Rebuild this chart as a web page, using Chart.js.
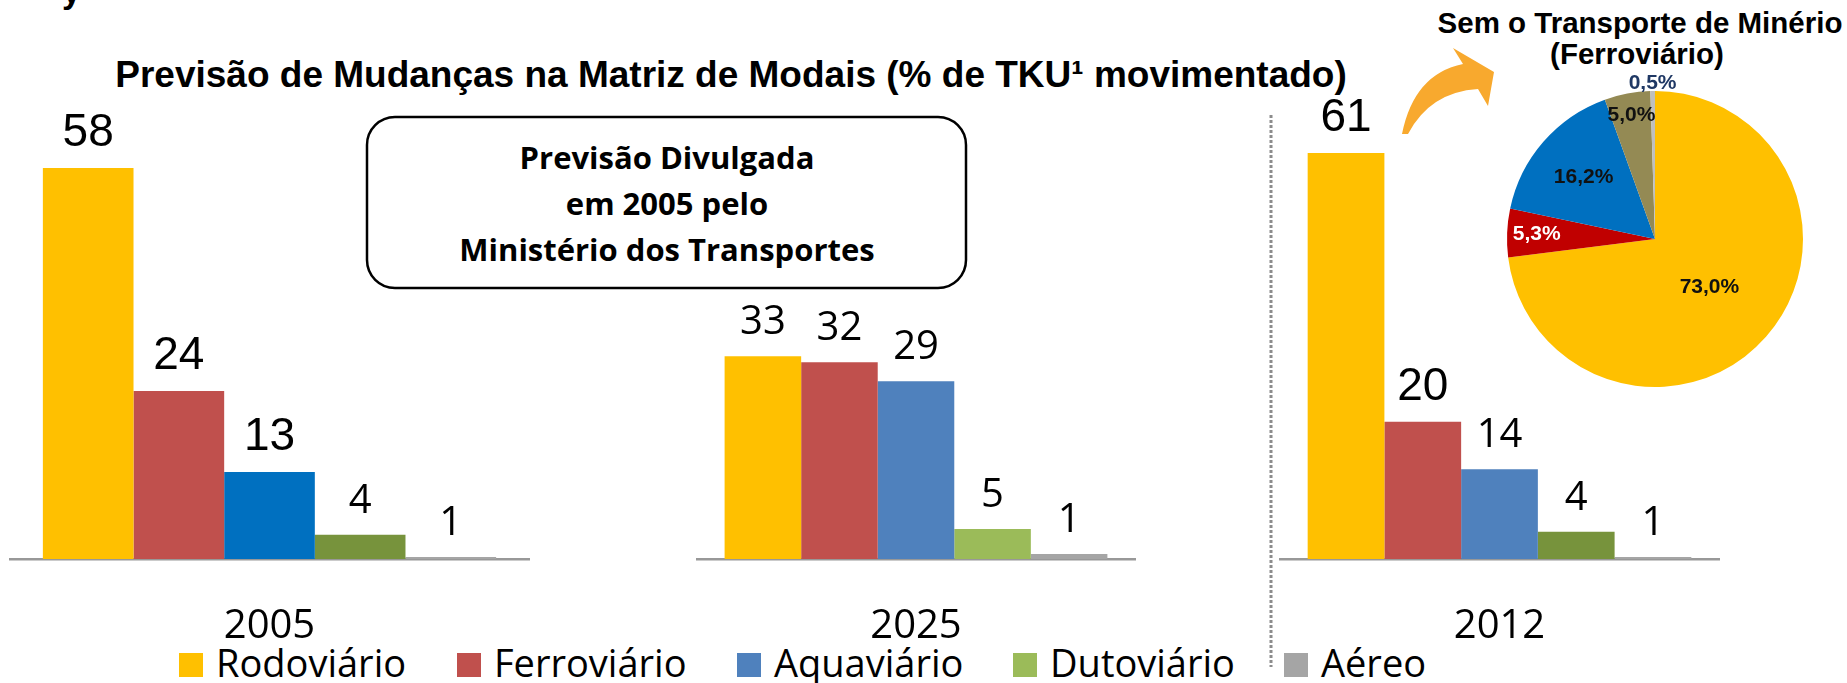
<!DOCTYPE html>
<html><head><meta charset="utf-8">
<script src="https://cdn.jsdelivr.net/npm/chart.js@4.4.1/dist/chart.umd.min.js"></script>
<style>
html,body{margin:0;padding:0;background:#fff;width:1847px;height:683px;overflow:hidden;}
#stage{position:relative;width:1847px;height:683px;}
#stage svg{position:absolute;left:0;top:0;}
.cw{position:absolute;}
.cw canvas{display:block;}
</style></head><body><div id="stage">
<svg width="1847" height="683" xmlns="http://www.w3.org/2000/svg">
  <text x="62" y="3" font-family="Liberation Sans, Arial, sans-serif" font-weight="bold" font-size="34" fill="#000">y</text>
  <text x="731" y="87" font-family="Liberation Sans, Arial, sans-serif" font-weight="bold" font-size="37" text-anchor="middle" fill="#000">Previsão de Mudanças na Matriz de Modais (% de TKU¹ movimentado)</text>
  <rect x="367" y="117" width="599" height="171" rx="28" ry="28" fill="none" stroke="#000" stroke-width="2.5"/>
  <g font-family="Open Sans, sans-serif" font-weight="bold" font-size="31" text-anchor="middle" fill="#000">
    <text x="667" y="169">Previsão Divulgada</text>
    <text x="667" y="215">em 2005 pelo</text>
    <text x="667" y="261">Ministério dos Transportes</text>
  </g>
  <line x1="1271" y1="115" x2="1271" y2="667" stroke="#8C8C8C" stroke-width="3" stroke-dasharray="3 2"/>
  <path d="M 1402 134 Q 1414 74 1463 64 L 1453 48 L 1494 72 L 1488 106 L 1478 89 Q 1430 92 1408 134 Z" fill="#F8A92E"/>
  <g font-family="Liberation Sans, Arial, sans-serif" font-weight="bold" font-size="29.5" text-anchor="middle" fill="#000">
    <text x="1640" y="33">Sem o Transporte de Minério</text>
    <text x="1637" y="64">(Ferroviário)</text>
  </g>
  <g id="legend" font-family="Open Sans, sans-serif" font-size="38" fill="#000"></g>
</svg>
<div class="cw" id="w1"><canvas id="c1"></canvas></div>
<div class="cw" id="w2"><canvas id="c2"></canvas></div>
<div class="cw" id="w3"><canvas id="c3"></canvas></div>
<div class="cw" id="wp"><canvas id="cp"></canvas></div>
</div>
<script>
// ---------- DATA ----------
const series = ['Rodoviário', 'Ferroviário', 'Aquaviário', 'Dutoviário', 'Aéreo'];
const categories = ['2005', '2025', '2012'];

const values2005 = [58, 24.9, 12.9, 3.6, 0.3];
const labels2005 = ['58', '24', '13', '4', '1'];

const values2025 = [33, 32, 28.9, 4.9, 0.8];
const labels2025 = ['33', '32', '29', '5', '1'];

const values2012 = [61, 20.6, 13.5, 4.1, 0.3];
const labels2012 = ['61', '20', '14', '4', '1'];

const pieLabels = ['Rodoviário', 'Ferroviário', 'Aquaviário', 'Dutoviário', 'Aéreo'];
const pieValues = [73.0, 5.3, 16.2, 5.0, 0.5];

// ---------- STYLE / LAYOUT ----------
const legendColors = ['#FFC000', '#C0504D', '#4F81BD', '#9BBB59', '#A5A5A5'];
const legendBoxX = [179, 457, 737, 1013, 1284];
const pieColors = ['#FFC000', '#C00000', '#0070C0', '#948A54', '#BFBFBF'];
const pieLabelColors = ['#111111', '#FFFFFF', '#111111', '#111111', '#1F3864'];
const pieLabelRadius = [0.49, 0.80, 0.64, 0.85, 1.05];

const ARIAL = '46px "Liberation Sans", Arial, sans-serif';
const CALI = '40px "Open Sans", sans-serif';
const BASE = 559, AXIS_H = 100;

const charts = [
  { id: 'c1', wrap: 'w1', left: 9, width: 521, ppu: 6.74, max: 70, cat: categories[0], values: values2005, labels: labels2005,
    colors: ['#FFC000', '#C0504D', '#0070C0', '#77933C', '#A5A5A5'], fonts: [ARIAL, ARIAL, ARIAL, CALI, CALI] },
  { id: 'c2', wrap: 'w2', left: 696, width: 440, ppu: 6.15, max: 75, cat: categories[1], values: values2025, labels: labels2025,
    colors: ['#FFC000', '#C0504D', '#4F81BD', '#9BBB59', '#A5A5A5'], fonts: [CALI, CALI, CALI, CALI, CALI] },
  { id: 'c3', wrap: 'w3', left: 1279, width: 441, ppu: 6.66, max: 70, cat: categories[2], values: values2012, labels: labels2012,
    colors: ['#FFC000', '#C0504D', '#4F81BD', '#77933C', '#A5A5A5'], fonts: [ARIAL, ARIAL, CALI, CALI, CALI] }
];

// legend
(function () {
  const g = document.getElementById('legend');
  const ns = 'http://www.w3.org/2000/svg';
  series.forEach((s, i) => {
    const r = document.createElementNS(ns, 'rect');
    r.setAttribute('x', legendBoxX[i]); r.setAttribute('y', 653);
    r.setAttribute('width', 24); r.setAttribute('height', 24);
    r.setAttribute('fill', legendColors[i]);
    g.appendChild(r);
    const t = document.createElementNS(ns, 'text');
    t.setAttribute('x', legendBoxX[i] + 37); t.setAttribute('y', 677);
    t.textContent = s;
    g.appendChild(t);
  });
})();

function barLabelPlugin(labels, fonts) {
  return {
    id: 'barLabels',
    afterDatasetsDraw(chart) {
      const ctx = chart.ctx;
      ctx.save();
      ctx.fillStyle = '#000';
      ctx.textAlign = 'center';
      ctx.textBaseline = 'alphabetic';
      chart.data.datasets.forEach((ds, i) => {
        const el = chart.getDatasetMeta(i).data[0];
        ctx.font = fonts[i];
        ctx.fillText(labels[i], el.x, el.y - 22);
      });
      ctx.restore();
    }
  };
}

charts.forEach(c => {
  const areaH = Math.round(c.max * c.ppu);
  const w = document.getElementById(c.wrap);
  w.style.left = c.left + 'px';
  w.style.top = (BASE - areaH) + 'px';
  w.style.width = c.width + 'px';
  w.style.height = (areaH + AXIS_H) + 'px';
  new Chart(document.getElementById(c.id), {
    type: 'bar',
    data: {
      labels: [c.cat],
      datasets: series.map((s, i) => ({
        label: s, data: [c.values[i]], backgroundColor: c.colors[i], borderWidth: 0,
        categoryPercentage: 0.87, barPercentage: 1.0
      }))
    },
    options: {
      responsive: true, maintainAspectRatio: false, animation: false,
      layout: { padding: 0 },
      plugins: { legend: { display: false }, tooltip: { enabled: false }, title: { display: false } },
      scales: {
        y: { display: false, min: 0, max: c.max },
        x: {
          grid: { display: false },
          border: { display: true, color: '#989898', width: 2.5 },
          ticks: { color: '#000', font: { family: '"Open Sans", sans-serif', size: 40 }, padding: 36, maxRotation: 0 },
          afterFit: (scale) => { scale.height = AXIS_H; }
        }
      }
    },
    plugins: [barLabelPlugin(c.labels, c.fonts)]
  });
});

// pie
(function () {
  const cx = 1655, cy = 239, r = 148, size = 360;
  const w = document.getElementById('wp');
  w.style.left = (cx - size / 2) + 'px';
  w.style.top = (cy - size / 2) + 'px';
  w.style.width = size + 'px';
  w.style.height = size + 'px';
  const pieLabelPlugin = {
    id: 'pieLabels',
    afterDatasetsDraw(chart) {
      const ctx = chart.ctx;
      ctx.save();
      ctx.font = 'bold 21px "Liberation Sans", Arial, sans-serif';
      ctx.textAlign = 'center';
      ctx.textBaseline = 'middle';
      chart.getDatasetMeta(0).data.forEach((arc, i) => {
        const mid = (arc.startAngle + arc.endAngle) / 2;
        const rr = arc.outerRadius * pieLabelRadius[i];
        const txt = pieValues[i].toFixed(1).replace('.', ',') + '%';
        ctx.fillStyle = pieLabelColors[i];
        ctx.fillText(txt, arc.x + Math.cos(mid) * rr, arc.y + Math.sin(mid) * rr);
      });
      ctx.restore();
    }
  };
  new Chart(document.getElementById('cp'), {
    type: 'pie',
    data: { labels: pieLabels, datasets: [{ data: pieValues, backgroundColor: pieColors, borderWidth: 0 }] },
    options: {
      responsive: true, maintainAspectRatio: false, animation: false,
      layout: { padding: (size - 2 * r) / 2 },
      plugins: { legend: { display: false }, tooltip: { enabled: false } }
    },
    plugins: [pieLabelPlugin]
  });
})();
</script>
</body></html>
